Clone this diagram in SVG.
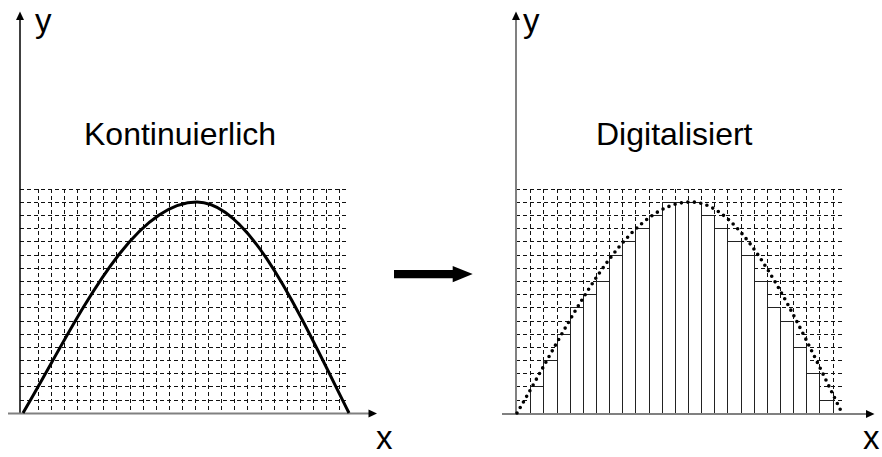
<svg xmlns="http://www.w3.org/2000/svg" width="882" height="457" viewBox="0 0 882 457">
<style>
.grid{fill:none;stroke:#111;stroke-width:1;stroke-dasharray:4 3}
.axis{stroke:#808080;stroke-width:2;fill:none}
.yaxisL{stroke:#000;stroke-width:1.5;fill:none}
.head{fill:#000}
.bar{fill:#fff;stroke:#222;stroke-width:1}
.curve{fill:none;stroke:#000;stroke-width:3}
.dots{fill:none;stroke:#000;stroke-width:3.6;stroke-linecap:round;stroke-dasharray:0 6.5}
.lbl{font-family:"Liberation Sans",Arial,sans-serif;fill:#000}
.ax{font-size:33px}
.ttl{font-size:32px}
</style>
<rect width="882" height="457" fill="#fff"/>
<g id="left-panel">
<path class="grid" d="M20,189.5H349M20,202.5H349M20,215.5H349M20,228.5H349M20,241.5H349M20,255.5H349M20,268.5H349M20,281.5H349M20,294.5H349M20,307.5H349M20,321.5H349M20,334.5H349M20,347.5H349M20,360.5H349M20,373.5H349M20,386.5H349M20,400.5H349"/>
<path class="grid" d="M38.5,189V413M51.5,189V413M64.5,189V413M77.5,189V413M90.5,189V413M103.5,189V413M116.5,189V413M130.5,189V413M143.5,189V413M156.5,189V413M169.5,189V413M182.5,189V413M195.5,189V413M208.5,189V413M221.5,189V413M234.5,189V413M247.5,189V413M261.5,189V413M274.5,189V413M287.5,189V413M300.5,189V413M313.5,189V413M326.5,189V413M339.5,189V413"/>
<line class="yaxisL" x1="20" y1="413.5" x2="20" y2="19"/>
<polygon class="head" points="20,11.5 16,20 24,20"/>
<line class="axis" x1="8" y1="413.5" x2="370" y2="413.5"/>
<polygon class="head" points="377,413.5 368.5,409.5 368.5,417.5"/>
<path class="curve" d="M23,413 C75,325 130,202 197,202 C250,202 300,315 349,413"/>
<text class="lbl ax" x="35" y="32">y</text>
<text class="lbl ax" x="376" y="449">x</text>
<text class="lbl ttl" x="84" y="145">Kontinuierlich</text>
</g>
<g id="arrow">
<polygon class="head" points="394,270 452.7,270 452.7,266 472.7,274 452.7,282.3 452.7,278.3 394,278.3"/>
</g>
<g id="right-panel">
<path class="grid" d="M516,189.5H842M516,202.5H842M516,215.5H842M516,228.5H842M516,241.5H842M516,255.5H842M516,268.5H842M516,281.5H842M516,294.5H842M516,307.5H842M516,321.5H842M516,334.5H842M516,347.5H842M516,360.5H842M516,373.5H842M516,386.5H842M516,400.5H842"/>
<path class="grid" d="M530.5,189V413M543.5,189V413M557.5,189V413M570.5,189V413M583.5,189V413M596.5,189V413M609.5,189V413M622.5,189V413M635.5,189V413M649.5,189V413M662.5,189V413M675.5,189V413M688.5,189V413M701.5,189V413M714.5,189V413M727.5,189V413M741.5,189V413M754.5,189V413M767.5,189V413M780.5,189V413M793.5,189V413M806.5,189V413M819.5,189V413M833.5,189V413"/>
<g id="bars">
<rect class="bar" x="530.5" y="386.5" width="13" height="27"/>
<rect class="bar" x="543.5" y="360.5" width="14" height="53"/>
<rect class="bar" x="557.5" y="334.5" width="13" height="79"/>
<rect class="bar" x="570.5" y="307.5" width="13" height="106"/>
<rect class="bar" x="583.5" y="294.5" width="13" height="119"/>
<rect class="bar" x="596.5" y="281.5" width="13" height="132"/>
<rect class="bar" x="609.5" y="255.5" width="13" height="158"/>
<rect class="bar" x="622.5" y="241.5" width="13" height="172"/>
<rect class="bar" x="635.5" y="228.5" width="14" height="185"/>
<rect class="bar" x="649.5" y="215.5" width="13" height="198"/>
<rect class="bar" x="662.5" y="202.5" width="13" height="211"/>
<rect class="bar" x="675.5" y="202.5" width="13" height="211"/>
<rect class="bar" x="688.5" y="202.5" width="13" height="211"/>
<rect class="bar" x="701.5" y="215.5" width="13" height="198"/>
<rect class="bar" x="714.5" y="228.5" width="13" height="185"/>
<rect class="bar" x="727.5" y="241.5" width="14" height="172"/>
<rect class="bar" x="741.5" y="255.5" width="13" height="158"/>
<rect class="bar" x="754.5" y="281.5" width="13" height="132"/>
<rect class="bar" x="767.5" y="307.5" width="13" height="106"/>
<rect class="bar" x="780.5" y="321.5" width="13" height="92"/>
<rect class="bar" x="793.5" y="347.5" width="13" height="66"/>
<rect class="bar" x="806.5" y="373.5" width="13" height="40"/>
<rect class="bar" x="819.5" y="400.5" width="14" height="13"/>
</g>
<line class="axis" x1="516" y1="414" x2="516" y2="19"/>
<polygon class="head" points="516,11.5 512,20 520,20"/>
<line class="axis" x1="502" y1="414" x2="867" y2="414"/>
<polygon class="head" points="874.5,414 866,410 866,418"/>
<path class="dots" d="M517,413 C569,325 624,202 691,202 C744,202 794,315 842,413"/>
<text class="lbl ax" x="523" y="32">y</text>
<text class="lbl ax" x="863" y="449">x</text>
<text class="lbl ttl" x="596" y="145">Digitalisiert</text>
</g>
</svg>
